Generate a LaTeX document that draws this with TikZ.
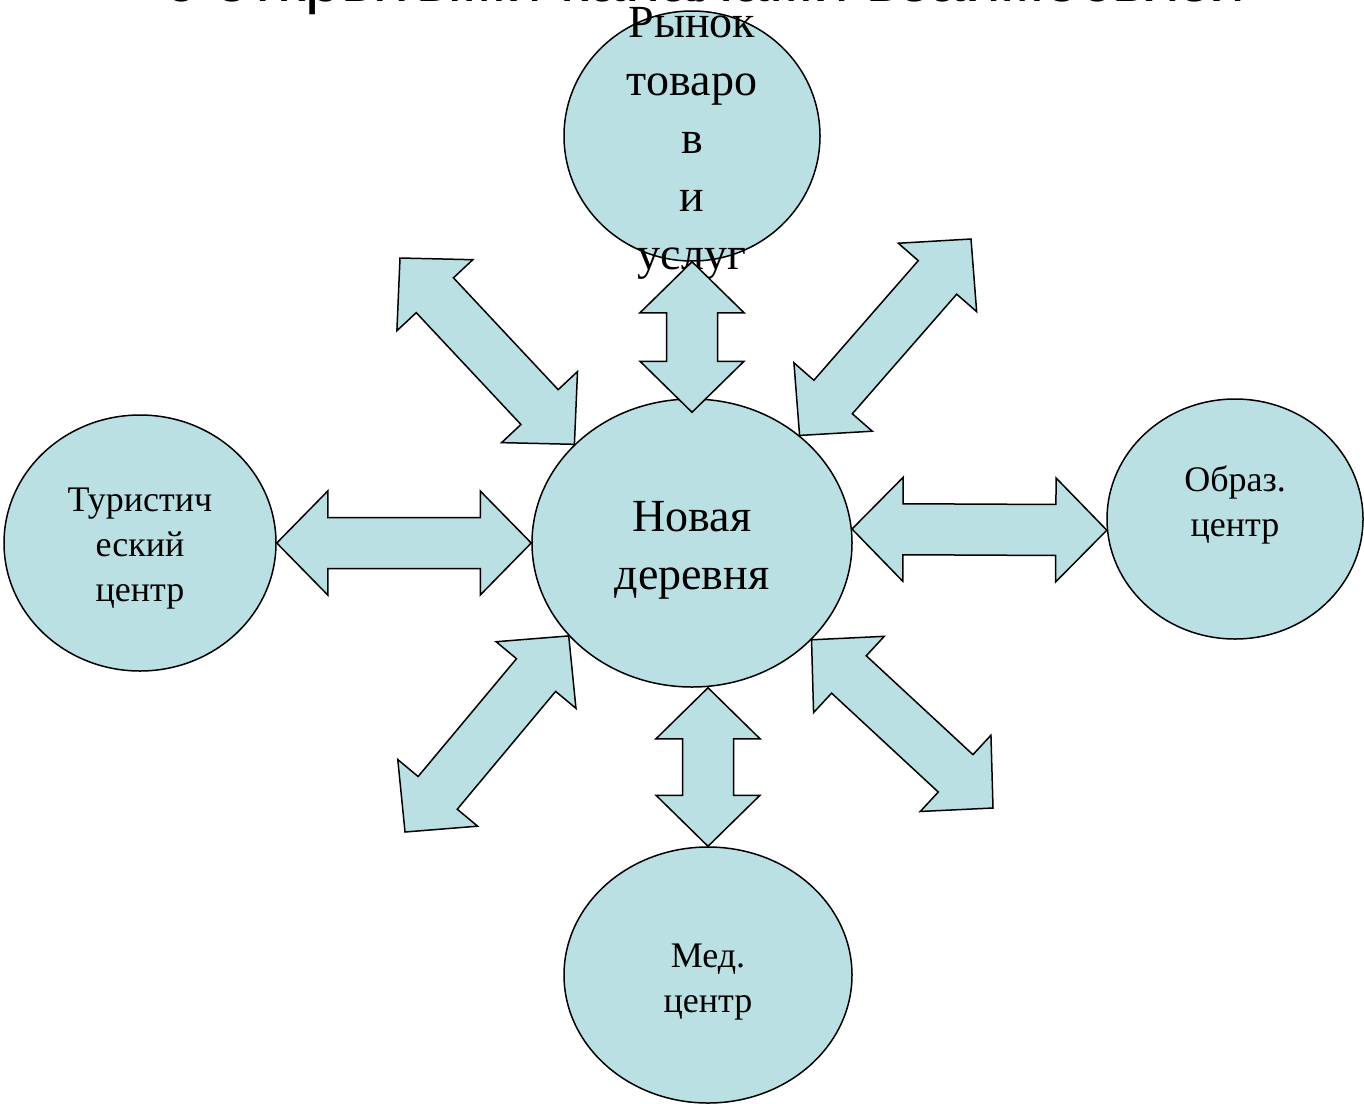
\documentclass[tikz,border=0pt]{standalone}
\usepackage{fontspec}
\setmainfont{Liberation Serif}
\newfontfamily\titlefont{Liberation Sans}
\usetikzlibrary{shapes.geometric,calc}
\definecolor{lightaqua}{RGB}{186,224,227}
\tikzset{
  bubble/.style={ellipse, draw, fill=lightaqua, line width=1.5pt, inner sep=0pt},
  blockarr/.style={draw, fill=lightaqua, line width=1.5pt, line join=miter},
  big/.style={font=\fontsize{46}{58}\selectfont, align=center},
  small/.style={font=\fontsize{36}{45}\selectfont, align=center},
}
% two-headed block arrow between two points
\newcommand{\twoway}[2]{%
  \coordinate (ha) at ($(#1)!51pt!(#2)$);
  \coordinate (hb) at ($(#2)!51pt!(#1)$);
  \draw[blockarr] (#1) -- ($(ha)!52pt!90:(#2)$) -- ($(ha)!25.5pt!90:(#2)$)
    -- ($(hb)!25.5pt!90:(#2)$) -- ($(hb)!52pt!90:(#2)$) -- (#2)
    -- ($(hb)!52pt!-90:(#2)$) -- ($(hb)!25.5pt!-90:(#2)$)
    -- ($(ha)!25.5pt!-90:(#2)$) -- ($(ha)!52pt!-90:(#2)$) -- cycle;
}

\begin{document}
\begin{tikzpicture}[x=1pt,y=-1pt]
\useasboundingbox (0,0) rectangle (1364,1103);
\clip (0,0) rectangle (1364,1103);
% title, cut by the top edge
\node[anchor=base, font=\titlefont\fontsize{64}{76}\selectfont] (title) at (705,1) {с открытыми каналами взаимосвязи};
% circles
\node[bubble, minimum width=320pt, minimum height=288pt] (village) at (692,543) {};
\node[bubble, minimum width=256pt, minimum height=250pt] (market) at (692,136) {};
\node[bubble, minimum width=272pt, minimum height=256pt] (tour) at (140,543) {};
\node[bubble, minimum width=256pt, minimum height=240pt] (edu) at (1235,519) {};
\node[bubble, minimum width=288pt, minimum height=256pt] (med) at (708,975) {};
% texts
\node[big] (villagetxt) at (692,550) {Новая\\деревня};
\node[big] (markettxt) at (692,143) {Рынок\\товаро\\в\\и\\услуг};
\node[small] (tourtxt) at (140,549) {Туристич\\еский\\центр};
\node[small] (edutxt) at (1235,505) {Образ.\\центр};
\node[small] (medtxt) at (708,982) {Мед.\\центр};
% free ends of the diagonal arrows
\coordinate (nwend) at (400,258);
\coordinate (neend) at (971,239);
\coordinate (swend) at (405,832);
\coordinate (seend) at (993,808);
\coordinate (vtop) at ($(village.north)+(0,14)$);
\coordinate (vbot) at (med.north |- village.south);
% links
\twoway{tour.east}{village.west}
\twoway{village.5}{edu.185}
\twoway{market.south}{vtop}
\twoway{vbot}{med.north}
\twoway{nwend}{village.140}
\twoway{village.45}{neend}
\twoway{village.217}{swend}
\twoway{village.-39}{seend}
\end{tikzpicture}
\end{document}
